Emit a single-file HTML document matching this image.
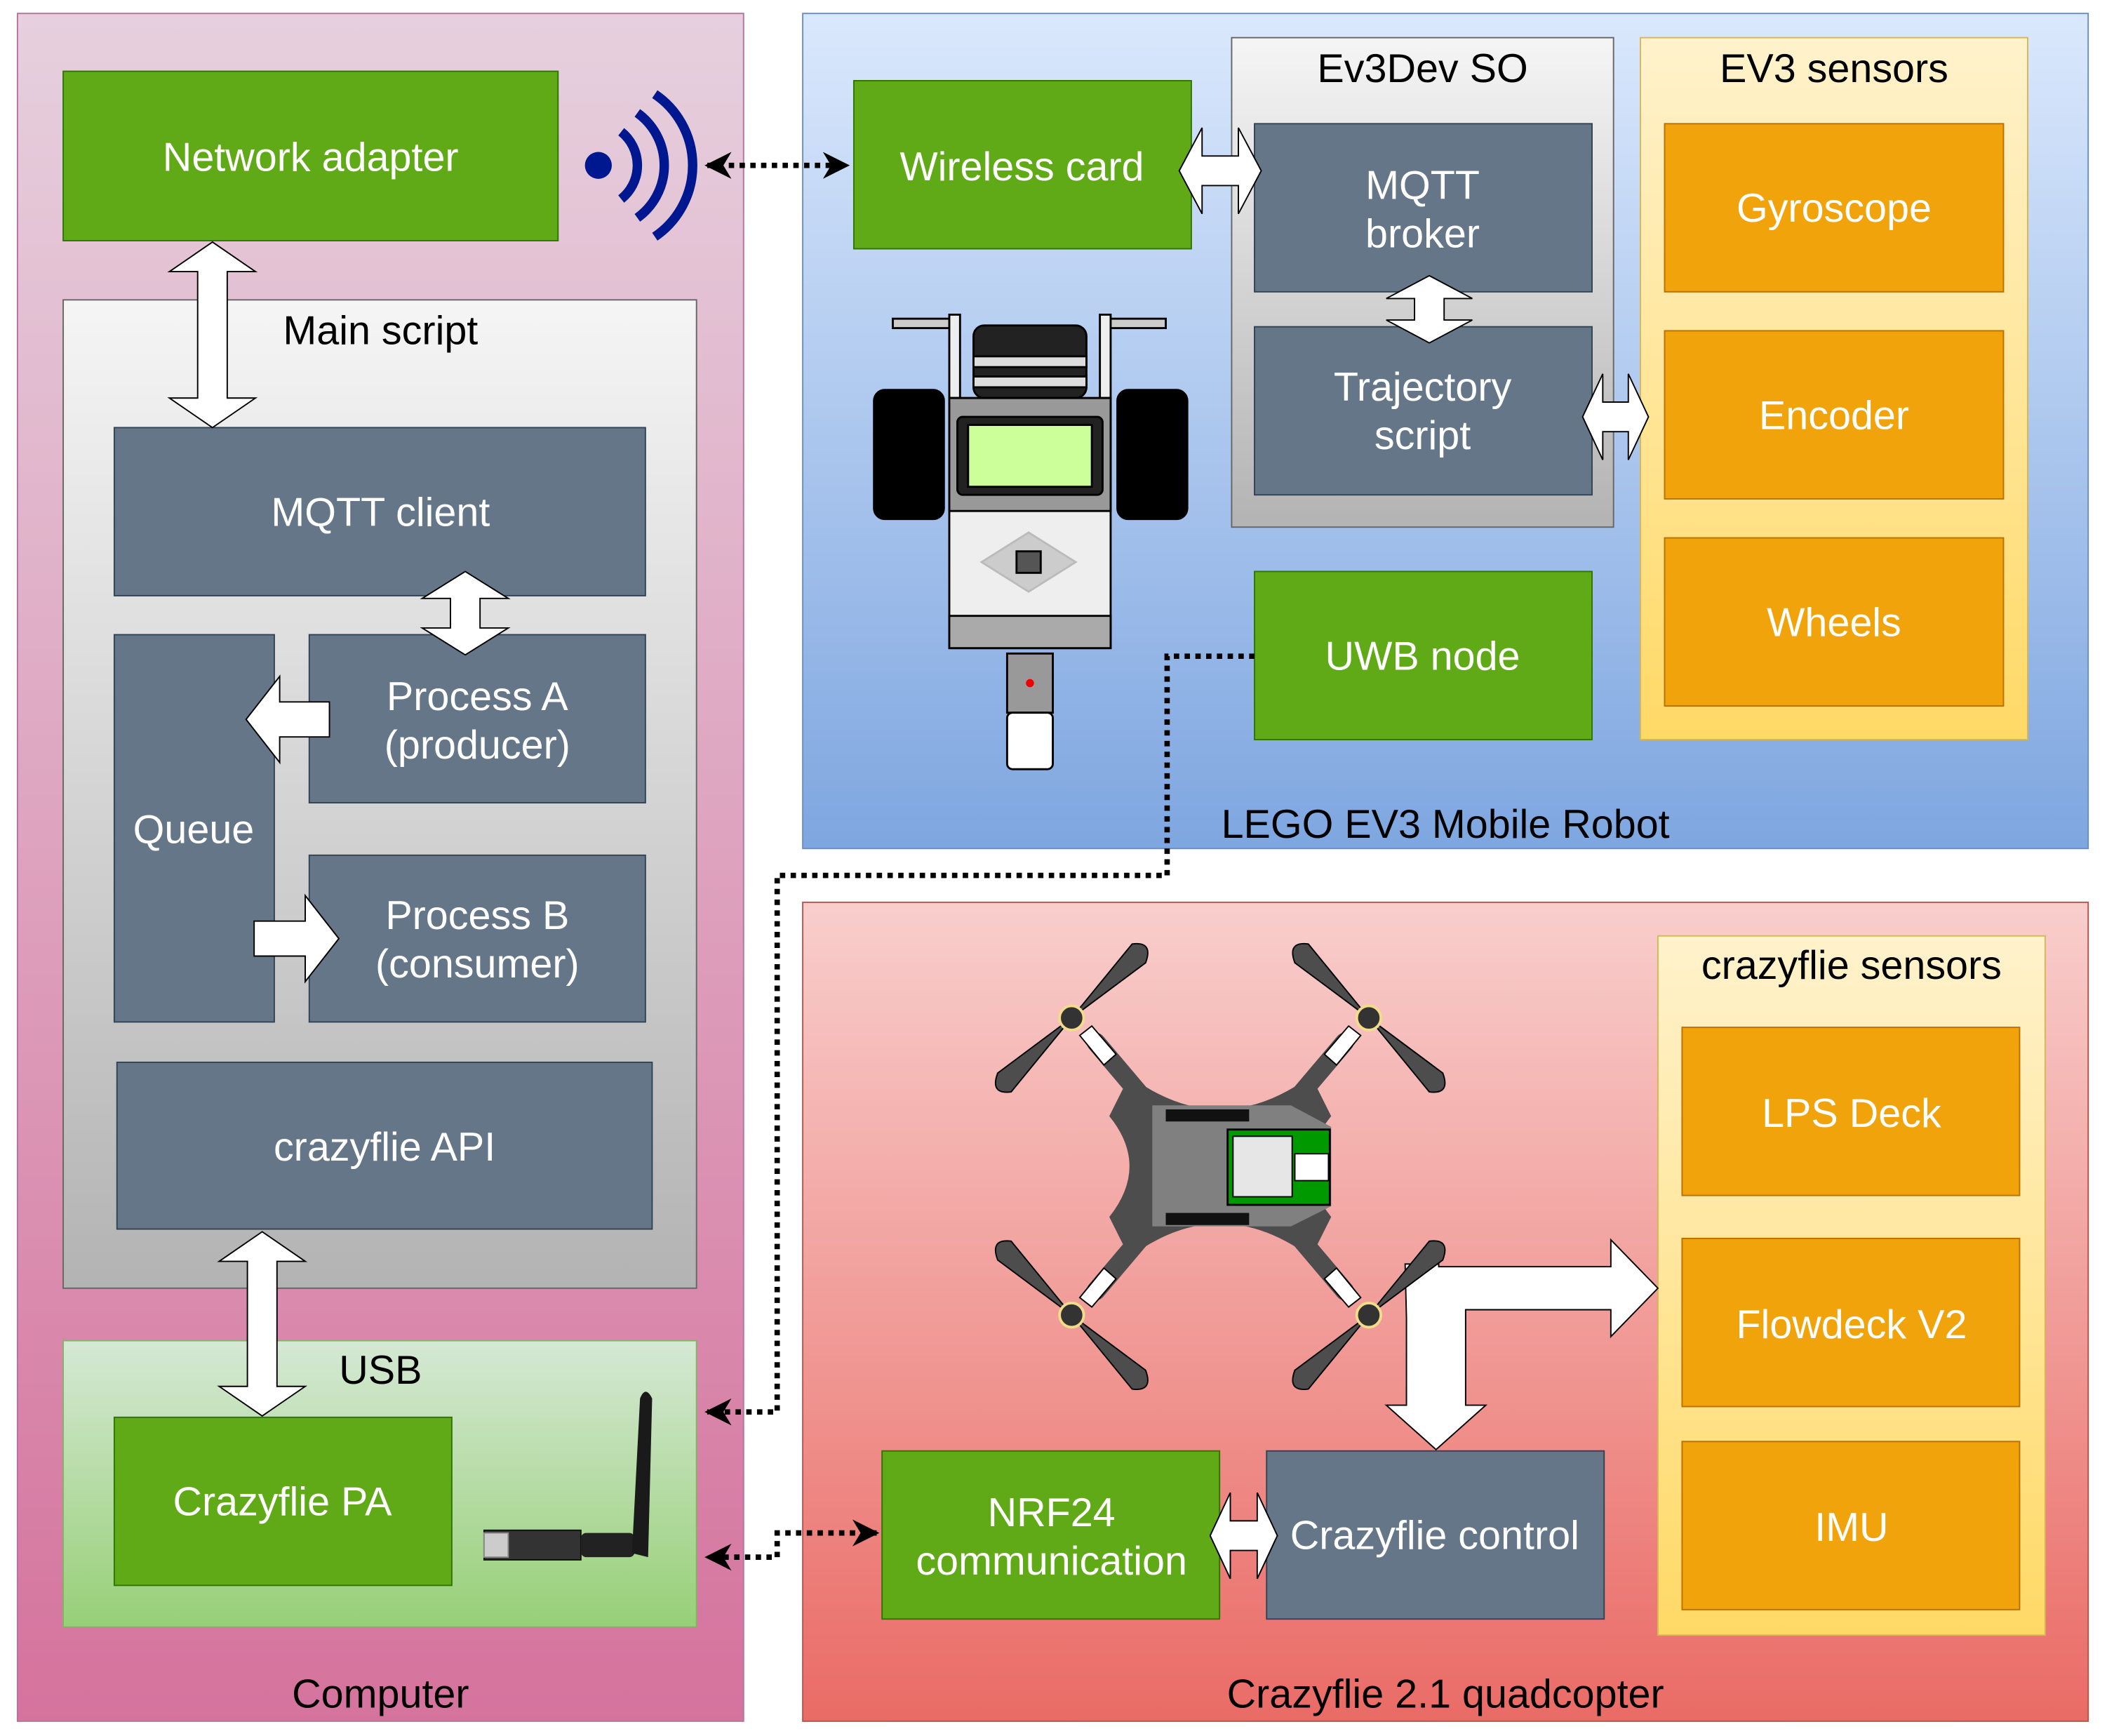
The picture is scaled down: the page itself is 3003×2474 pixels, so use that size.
<!DOCTYPE html>
<html><head><meta charset="utf-8"><style>
html,body{margin:0;padding:0;background:#fff;}
svg{display:block;}
text{font-family:"Liberation Sans",Arial,sans-serif;}
</style></head><body>
<svg width="3003" height="2474" viewBox="0 0 1567 1291" preserveAspectRatio="none" xmlns="http://www.w3.org/2000/svg">
<defs>
<linearGradient id="gPink" x1="0" y1="0" x2="0" y2="1"><stop offset="0" stop-color="#e6d0de"/><stop offset="1" stop-color="#d5739d"/></linearGradient>
<linearGradient id="gGray" x1="0" y1="0" x2="0" y2="1"><stop offset="0" stop-color="#f5f5f5"/><stop offset="1" stop-color="#b3b3b3"/></linearGradient>
<linearGradient id="gGreen" x1="0" y1="0" x2="0" y2="1"><stop offset="0" stop-color="#d5e8d4"/><stop offset="1" stop-color="#97d077"/></linearGradient>
<linearGradient id="gBlue" x1="0" y1="0" x2="0" y2="1"><stop offset="0" stop-color="#dae8fc"/><stop offset="1" stop-color="#7ea6e0"/></linearGradient>
<linearGradient id="gRed" x1="0" y1="0" x2="0" y2="1"><stop offset="0" stop-color="#f8cecc"/><stop offset="1" stop-color="#ea6b66"/></linearGradient>
<linearGradient id="gYel" x1="0" y1="0" x2="0" y2="1"><stop offset="0" stop-color="#fff2cc"/><stop offset="1" stop-color="#ffd966"/></linearGradient>
<marker id="ah2" viewBox="0 0 10 10" markerWidth="20" markerHeight="20" refX="9" refY="5" orient="auto" markerUnits="userSpaceOnUse"><path d="M0,0 L10,5 L0,10 L3,5 Z" fill="#000"/></marker>
<marker id="as2" viewBox="0 0 10 10" markerWidth="20" markerHeight="20" refX="1" refY="5" orient="auto" markerUnits="userSpaceOnUse"><path d="M10,0 L0,5 L10,10 L7,5 Z" fill="#000"/></marker>
</defs>

<rect x="13" y="10" width="540" height="1270" fill="url(#gPink)" stroke="#b5739d" stroke-width="1"/>
<rect x="597" y="10" width="956" height="621" fill="url(#gBlue)" stroke="#6c8ebf" stroke-width="1"/>
<rect x="597" y="671" width="956" height="609" fill="url(#gRed)" stroke="#b85450" stroke-width="1"/>

<g font-size="30" fill="#000" text-anchor="middle">
<text x="283" y="1270">Computer</text>
<text x="1075" y="623">LEGO EV3 Mobile Robot</text>
<text x="1075" y="1270">Crazyflie 2.1 quadcopter</text>
</g>

<rect x="47" y="223" width="471" height="735" fill="url(#gGray)" stroke="#666" stroke-width="1"/>
<text x="283" y="256" font-size="30" text-anchor="middle">Main script</text>
<rect x="47" y="997" width="471" height="213" fill="url(#gGreen)" stroke="#82b366" stroke-width="1"/>
<text x="283" y="1029" font-size="30" text-anchor="middle">USB</text>
<rect x="916" y="28" width="284" height="364" fill="url(#gGray)" stroke="#666" stroke-width="1"/>
<text x="1058" y="61" font-size="30" text-anchor="middle">Ev3Dev SO</text>
<rect x="1220" y="28" width="288" height="522" fill="url(#gYel)" stroke="#d6b656" stroke-width="1"/>
<text x="1364" y="61" font-size="30" text-anchor="middle">EV3 sensors</text>
<rect x="1233" y="696" width="288" height="520" fill="url(#gYel)" stroke="#d6b656" stroke-width="1"/>
<text x="1377" y="728" font-size="30" text-anchor="middle">crazyflie sensors</text>

<g fill="#60a917" stroke="#2d7600" stroke-width="1">
<rect x="47" y="53" width="368" height="126"/>
<rect x="635" y="60" width="251" height="125"/>
<rect x="933" y="425" width="251" height="125"/>
<rect x="85" y="1054" width="251" height="125"/>
<rect x="656" y="1079" width="251" height="125"/>
</g>
<g fill="#647687" stroke="#314354" stroke-width="1">
<rect x="85" y="318" width="395" height="125"/>
<rect x="85" y="472" width="119" height="288"/>
<rect x="230" y="472" width="250" height="125"/>
<rect x="230" y="636" width="250" height="124"/>
<rect x="87" y="790" width="398" height="124"/>
<rect x="933" y="92" width="251" height="125"/>
<rect x="933" y="243" width="251" height="125"/>
<rect x="942" y="1079" width="251" height="125"/>
</g>
<g fill="#f0a30a" stroke="#bd7000" stroke-width="1">
<rect x="1238" y="92" width="252" height="125"/>
<rect x="1238" y="246" width="252" height="125"/>
<rect x="1238" y="400" width="252" height="125"/>
<rect x="1251" y="764" width="251" height="125"/>
<rect x="1251" y="921" width="251" height="125"/>
<rect x="1251" y="1072" width="251" height="125"/>
</g>

<g font-size="30" fill="#fff" text-anchor="middle">
<text x="231" y="127">Network adapter</text>
<text x="760" y="134">Wireless card</text>
<text x="1058" y="498">UWB node</text>
<text x="210" y="1127">Crazyflie PA</text>
<text x="782" y="1135">NRF24</text>
<text x="782" y="1171">communication</text>
<text x="283" y="391">MQTT client</text>
<text x="144" y="627">Queue</text>
<text x="355" y="528">Process A</text>
<text x="355" y="564">(producer)</text>
<text x="355" y="691">Process B</text>
<text x="355" y="727">(consumer)</text>
<text x="286" y="863">crazyflie API</text>
<text x="1058" y="148">MQTT</text>
<text x="1058" y="184">broker</text>
<text x="1058" y="298">Trajectory</text>
<text x="1058" y="334">script</text>
<text x="1067" y="1152">Crazyflie control</text>
<text x="1364" y="165">Gyroscope</text>
<text x="1364" y="319">Encoder</text>
<text x="1364" y="473">Wheels</text>
<text x="1377" y="838">LPS Deck</text>
<text x="1377" y="995">Flowdeck V2</text>
<text x="1377" y="1146">IMU</text>
</g>

<g fill="#fff" stroke="#000" stroke-width="1">
<polygon points="158,180 190,202 169,202 169,296 190,296 158,318 126,296 147,296 147,202 126,202"/>
<polygon points="346,425 378,445 357,445 357,467 378,467 346,487 314,467 335,467 335,445 314,445"/>
<polygon points="195,916 227,938 206,938 206,1031 227,1031 195,1053 163,1031 184,1031 184,938 163,938"/>
<polygon points="1063,205 1095,222 1074,222 1074,238 1095,238 1063,255 1031,238 1052,238 1052,222 1031,222"/>
<polygon points="877,127 894,95 894,116 921,116 921,95 938,127 921,159 921,138 894,138 894,159"/>
<polygon points="1177,310 1192,278 1192,299 1211,299 1211,278 1226,310 1211,342 1211,321 1192,321 1192,342"/>
<polygon points="900,1142 915,1110 915,1131 935,1131 935,1110 950,1142 935,1174 935,1153 915,1153 915,1174"/>
<polygon points="183,535 208,503 208,522 245,522 245,548 208,548 208,567"/>
<polygon points="252,698 227,666 227,685 189,685 189,711 227,711 227,730"/>
<polygon points="1045,940 1070,940 1070,942 1198,942 1198,922 1233,958 1198,994 1198,974 1090,974 1090,1045 1105,1045 1068,1078 1031,1045 1046,1045 1046,980 1045,940"/>
</g>

<g fill="none" stroke="#000" stroke-width="4" stroke-dasharray="4,4">
<line x1="526" y1="123" x2="630" y2="123" marker-start="url(#as2)" marker-end="url(#ah2)"/>
<polyline points="933,488 868,488 868,651 578,651 578,1050 526,1050" marker-end="url(#ah2)"/>
<polyline points="652,1140 578,1140 578,1158 526,1158" marker-end="url(#ah2)" marker-start="url(#as2)"/>
</g>

<g fill="none" stroke="#00188f" stroke-width="7">
<circle cx="445" cy="123" r="10" fill="#00188f" stroke="none"/>
<path d="M462,98 A32,32 0 0 1 462,148"/>
<path d="M474,84 A48,48 0 0 1 474,162"/>
<path d="M487,70 A64,64 0 0 1 487,176"/>
</g>

<g>
<rect x="360" y="1138" width="72" height="22" fill="#333" stroke="#111"/>
<rect x="360" y="1140" width="18" height="18" fill="#ccc" stroke="#888"/>
<rect x="432" y="1140" width="40" height="18" rx="4" fill="#222"/>
<path d="M470,1155 L476,1040 Q480,1030 485,1040 L482,1158 Z" fill="#1a1a1a"/>
</g>

<g stroke="#000" stroke-width="1.5">
<rect x="664" y="237" width="42" height="7" fill="#ccc"/>
<rect x="825" y="237" width="42" height="7" fill="#ccc"/>
<rect x="706" y="234" width="8" height="62" fill="#eee"/>
<rect x="818" y="234" width="8" height="62" fill="#eee"/>
<rect x="724" y="242" width="84" height="54" rx="8" fill="#222"/>
<rect x="724" y="265" width="84" height="8" fill="#ddd"/>
<rect x="724" y="280" width="84" height="8" fill="#ddd"/>
<rect x="650" y="290" width="52" height="96" rx="8" fill="#000"/>
<rect x="831" y="290" width="52" height="96" rx="8" fill="#000"/>
<rect x="706" y="296" width="120" height="186" fill="#eee"/>
<rect x="706" y="296" width="120" height="84" fill="#999"/>
<rect x="712" y="310" width="108" height="58" rx="4" fill="#222"/>
<rect x="720" y="316" width="92" height="46" fill="#ccff99"/>
<polygon points="765,396 800,418 765,440 730,418" fill="#ccc" stroke="#bbb"/>
<rect x="756" y="410" width="18" height="16" fill="#555"/>
<rect x="706" y="458" width="120" height="24" fill="#aaa"/>
<rect x="749" y="486" width="34" height="44" fill="#999"/>
<rect x="749" y="530" width="34" height="42" rx="4" fill="#fff"/>
<circle cx="766" cy="508" r="3" fill="#e00" stroke="none"/>
</g>

<g>
<g stroke="#4d4d4d" stroke-width="14" stroke-linecap="round">
<line x1="815" y1="775" x2="870" y2="840"/>
<line x1="1000" y1="775" x2="945" y2="840"/>
<line x1="815" y1="960" x2="870" y2="895"/>
<line x1="1000" y1="960" x2="945" y2="895"/>
</g>
<path d="M840,800 Q907,850 975,800 L990,830 Q960,867 990,905 L975,935 Q907,885 840,935 L825,905 Q855,867 825,830 Z" fill="#4d4d4d"/>
<polygon points="857,822 960,822 990,838 990,897 960,912 857,912" fill="#808080"/>
<rect x="867" y="825" width="62" height="9" fill="#111"/>
<rect x="867" y="902" width="62" height="9" fill="#111"/>
<rect x="913" y="840" width="76" height="56" fill="#009900" stroke="#000" stroke-width="1.5"/>
<rect x="917" y="845" width="44" height="45" fill="#e6e6e6" stroke="#000"/>
<rect x="963" y="858" width="25" height="20" fill="#fff" stroke="#000"/>
<g fill="#fff" stroke="#000">
<polygon points="803,770 812,763 830,784 821,792"/>
<polygon points="1012,770 1003,763 985,784 994,792"/>
<polygon points="803,965 812,972 830,951 821,943"/>
<polygon points="1012,965 1003,972 985,951 994,943"/>
</g>
<g fill="#4d4d4d" stroke="#000" stroke-width="1">
<path d="M797,757 L842,702 Q858,700 852,716 Z"/>
<path d="M797,757 L752,812 Q736,814 742,798 Z"/>
<path d="M1018,757 L973,702 Q957,700 963,716 Z"/>
<path d="M1018,757 L1063,812 Q1079,814 1073,798 Z"/>
<path d="M797,978 L752,923 Q736,921 742,937 Z"/>
<path d="M797,978 L842,1033 Q858,1035 852,1019 Z"/>
<path d="M1018,978 L1063,923 Q1079,921 1073,937 Z"/>
<path d="M1018,978 L973,1033 Q957,1035 963,1019 Z"/>
</g>
<g fill="#333" stroke="#f2dc8c" stroke-width="2">
<circle cx="797" cy="757" r="9"/><circle cx="1018" cy="757" r="9"/>
<circle cx="797" cy="978" r="9"/><circle cx="1018" cy="978" r="9"/>
</g>
</g>
</svg>
</body></html>
